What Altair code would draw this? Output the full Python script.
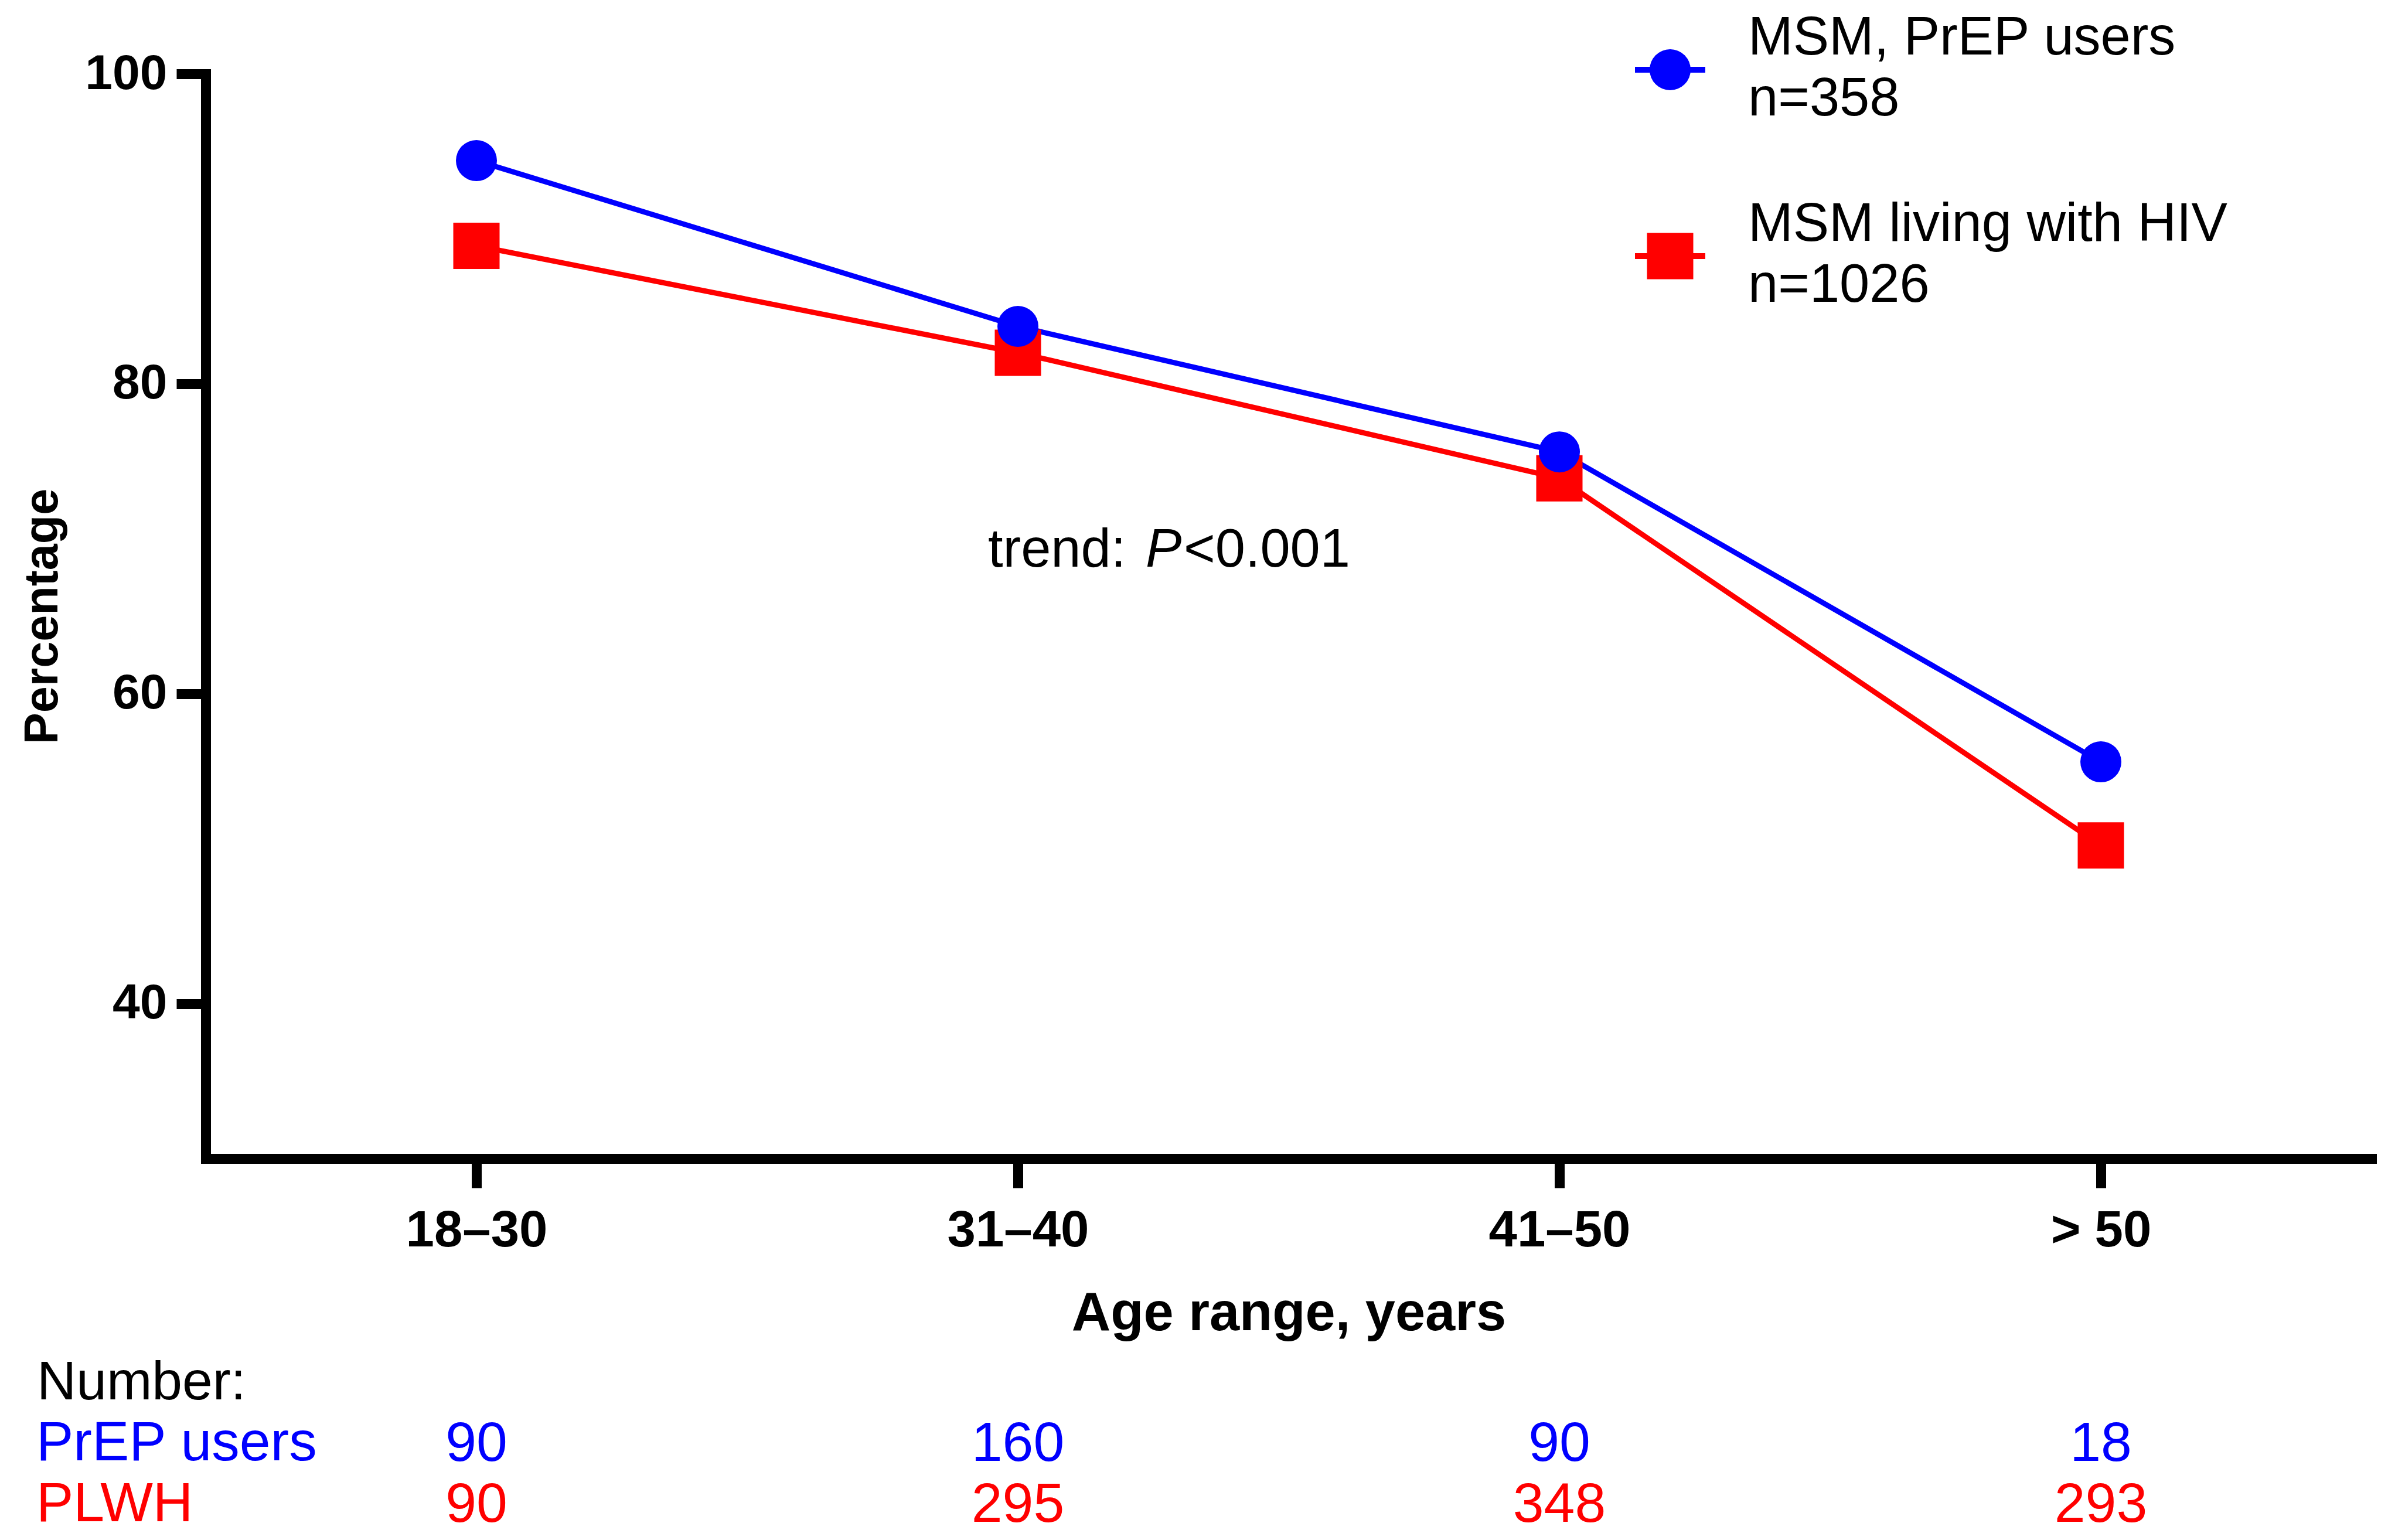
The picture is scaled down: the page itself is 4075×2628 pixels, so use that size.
import altair as alt
import pandas as pd

# ---------------- data ----------------
ages = ["18–30", "31–40", "41–50", "> 50"]
series = ["MSM, PrEP users", "MSM living with HIV"]
series_n = ["n=358", "n=1026"]
prep_pct = [94.4, 83.7, 75.6, 55.6]
plwh_pct = [88.9, 82.0, 73.9, 50.2]
count_title = "Number:"
count_rows = ["PrEP users", "PLWH"]
prep_counts = [90, 160, 90, 18]
plwh_counts = [90, 295, 348, 293]
trend_parts = ["trend:", "P", "<0.001"]
trend_value = 68.2
y_ticks = [40, 60, 80, 100]

# ---------------- styles ----------------
colors = ["#0000ff", "#ff0000"]
shapes = ["circle", "square"]
sizes = [4900, 6240]
FONT = "Liberation Sans"
W, H = 3696, 1851

pct_rows = []
for name, vals in [(series[1], plwh_pct), (series[0], prep_pct)]:
    for a, v in zip(ages, vals):
        pct_rows.append({"age": a, "pct": v, "series": name})
df = pd.DataFrame(pct_rows)

x_enc = alt.X(
    "age:N", sort=ages,
    scale=alt.Scale(type="point", domain=ages, padding=0.5),
    axis=alt.Axis(title="Age range, years", labelAngle=0, labelFontSize=87,
                  labelFontWeight="bold", labelPadding=30, labelLimit=1000,
                  titleFontSize=92, titleFontWeight="bold", titlePadding=53),
)
y_enc = alt.Y(
    "pct:Q",
    scale=alt.Scale(domain=[30, 100], nice=False, zero=False),
    axis=alt.Axis(title="Percentage", values=y_ticks, labelFontSize=84,
                  labelFontWeight="bold", labelPadding=16, titleFontSize=81,
                  titleFontWeight="bold", titlePadding=37),
)
color_enc = alt.Color("series:N", scale=alt.Scale(domain=series, range=colors), legend=None)

lines = alt.Chart(df).mark_line(strokeWidth=9).encode(x=x_enc, y=y_enc, color=color_enc)
points = alt.Chart(df).mark_point(filled=True, opacity=1).encode(
    x=x_enc, y=y_enc, color=color_enc,
    shape=alt.Shape("series:N", scale=alt.Scale(domain=series, range=shapes), legend=None),
    size=alt.Size("series:N", scale=alt.Scale(domain=series, range=sizes), legend=None),
)

layers = [lines, points]

# trend annotation
trend_df = pd.DataFrame({"age": [ages[1]], "pct": [trend_value]})
trend_dx = [-51, 218, 283]
trend_style = ["normal", "italic", "normal"]
for part, dx, st in zip(trend_parts, trend_dx, trend_style):
    layers.append(
        alt.Chart(trend_df).mark_text(
            text=part, align="left", baseline="alphabetic", dx=dx, fontSize=92,
            fontStyle=st, font=FONT, color="black"
        ).encode(x=x_enc, y=y_enc)
    )

# counts table below the axis
counts_df = pd.DataFrame({"age": ages, "prep": prep_counts, "plwh": plwh_counts})
one = pd.DataFrame({"k": [0]})
row_y = [2366, 2470]
layers.append(
    alt.Chart(one).mark_text(text=count_title, align="left", baseline="alphabetic",
                             fontSize=93, font=FONT, color="black")
    .encode(x=alt.value(-288), y=alt.value(2262))
)
for i, field in enumerate(["prep", "plwh"]):
    layers.append(
        alt.Chart(one).mark_text(text=count_rows[i], align="left", baseline="alphabetic",
                                 fontSize=95, font=FONT, color=colors[i])
        .encode(x=alt.value(-289), y=alt.value(row_y[i]))
    )
    layers.append(
        alt.Chart(counts_df).mark_text(align="center", baseline="alphabetic",
                                       fontSize=95, font=FONT, color=colors[i])
        .encode(x=x_enc, y=alt.value(row_y[i] + 1), text=alt.Text(f"{field}:Q"))
    )

# legend (top right)
leg_yc = [-7, 311]
for i in range(2):
    yc = leg_yc[i]
    layers.append(
        alt.Chart(one).mark_rule(strokeWidth=10, color=colors[i])
        .encode(x=alt.value(2439), x2=alt.value(2559), y=alt.value(yc))
    )
    layers.append(
        alt.Chart(one).mark_point(filled=True, opacity=1, shape=shapes[i], size=sizes[i],
                                  color=colors[i])
        .encode(x=alt.value(2499), y=alt.value(yc))
    )
    layers.append(
        alt.Chart(one).mark_text(text=[series[i], series_n[i]], align="left",
                                 baseline="alphabetic", fontSize=92, lineHeight=104,
                                 font=FONT, color="black")
        .encode(x=alt.value(2632), y=alt.value(yc - 26))
    )

chart = (
    alt.layer(*layers)
    .properties(
        width=W, height=H,
        padding={"left": 343, "top": 118, "right": 20, "bottom": 643},
        autosize=alt.AutoSizeParams(type="none"),
    )
    .configure_view(stroke=None)
    .configure_axis(
        grid=False, domainColor="black", domainWidth=17, domainCap="square",
        tickColor="black", tickWidth=17, tickSize=50,
        labelColor="black", titleColor="black", labelFont=FONT, titleFont=FONT,
    )
)

chart.save("out.html", embed_options={"renderer": "svg", "actions": False})
